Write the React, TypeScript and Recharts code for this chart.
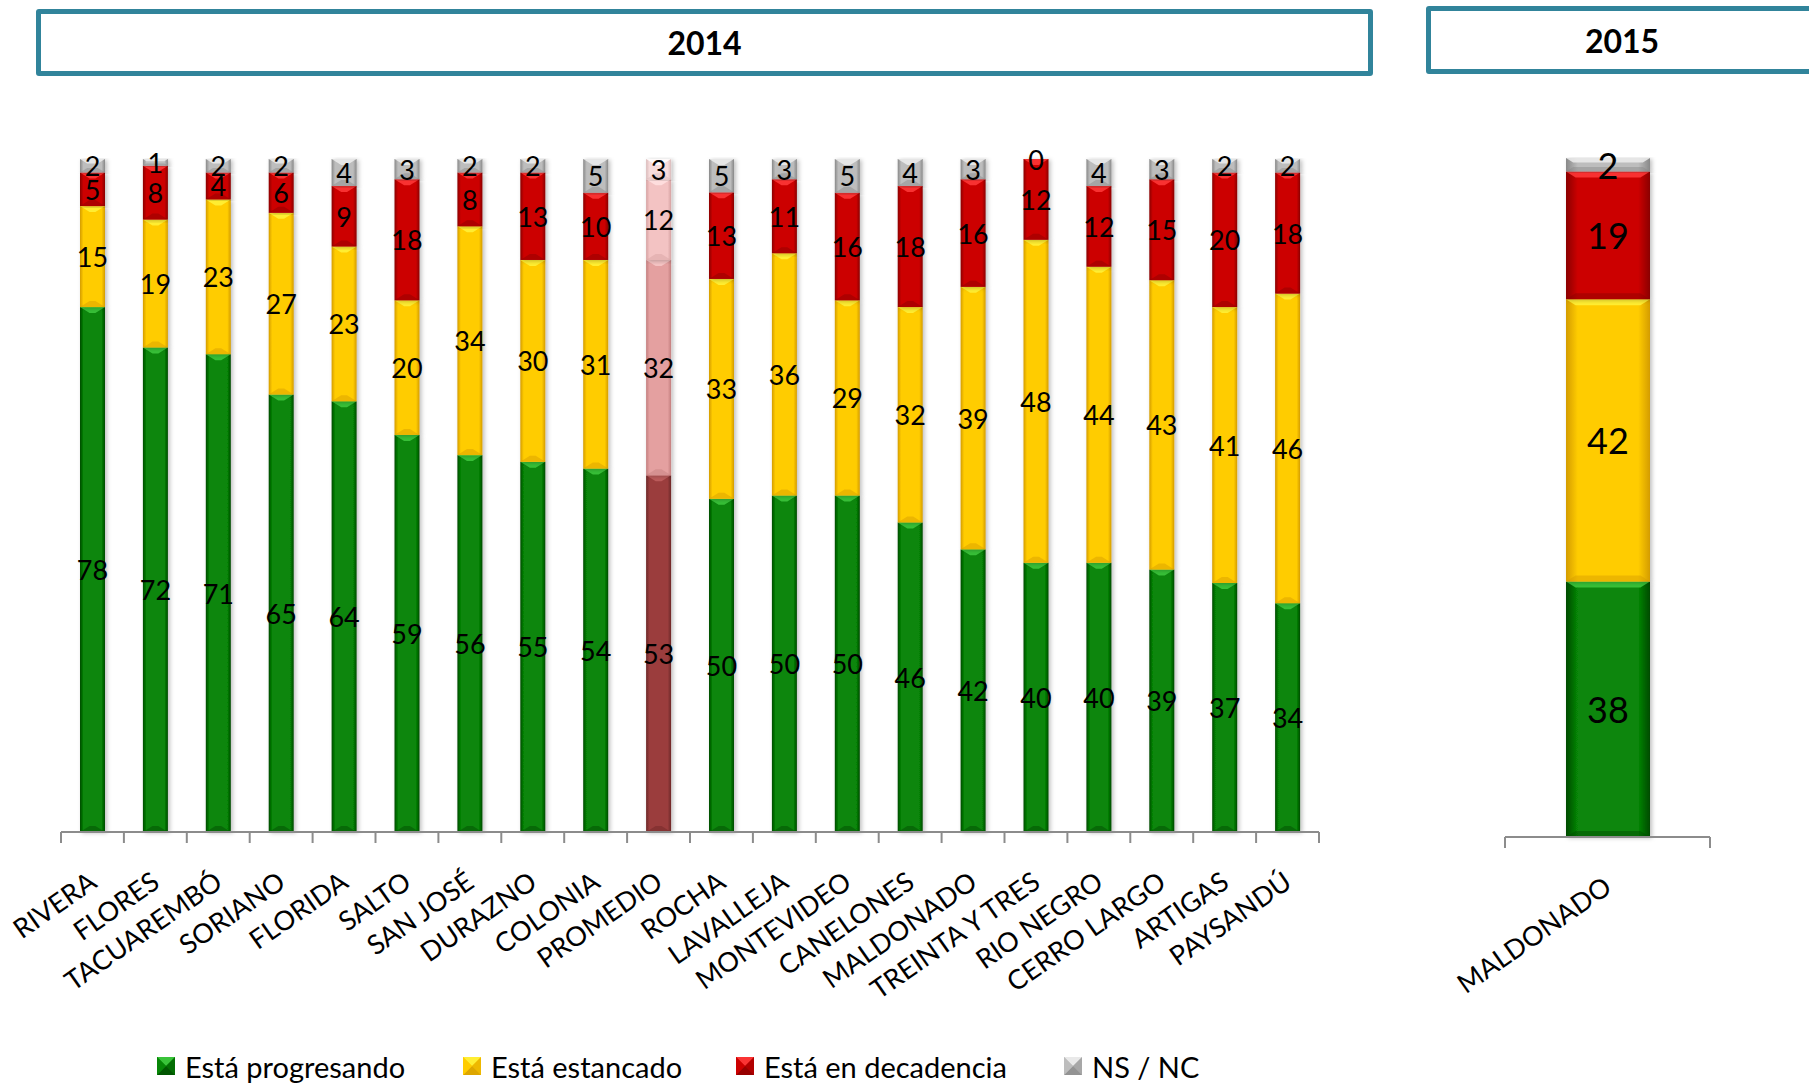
import React from 'react';
import { BarChart, Bar, XAxis, YAxis, LabelList, Cell } from 'recharts';

const CATEGORIES = [
  'RIVERA', 'FLORES', 'TACUAREMBÓ', 'SORIANO', 'FLORIDA', 'SALTO', 'SAN JOSÉ', 'DURAZNO', 'COLONIA', 'PROMEDIO',
  'ROCHA', 'LAVALLEJA', 'MONTEVIDEO', 'CANELONES', 'MALDONADO', 'TREINTA Y TRES', 'RIO NEGRO', 'CERRO LARGO', 'ARTIGAS', 'PAYSANDÚ',
];
const PROGRESANDO = [78, 72, 71, 65, 64, 59, 56, 55, 54, 53, 50, 50, 50, 46, 42, 40, 40, 39, 37, 34];
const ESTANCADO = [15, 19, 23, 27, 23, 20, 34, 30, 31, 32, 33, 36, 29, 32, 39, 48, 44, 43, 41, 46];
const DECADENCIA = [5, 8, 4, 6, 9, 18, 8, 13, 10, 12, 13, 11, 16, 18, 16, 12, 12, 15, 20, 18];
const NSNC = [2, 1, 2, 2, 4, 3, 2, 2, 5, 3, 5, 3, 5, 4, 3, 0, 4, 3, 2, 2];

const CATEGORIES_2015 = ['MALDONADO'];
const PROGRESANDO_2015 = [38];
const ESTANCADO_2015 = [42];
const DECADENCIA_2015 = [19];
const NSNC_2015 = [2];

const HIGHLIGHT = 'PROMEDIO';

const FONT = 'Lato, "Open Sans", sans-serif';

// base / dark edge / light bevel
const PALETTE: Record<string, [string, string, string]> = {
  prog: ['#078607', '#004a00', '#3fca3f'],
  est: ['#FFCC00', '#D49C00', '#FFF23A'],
  dec: ['#CC0000', '#8A0000', '#FF3A3A'],
  ns: ['#BDBDBD', '#888888', '#EDEDED'],
  'h-prog': ['#9B3E3E', '#6C2626', '#C26262'],
  'h-est': ['#E4A0A0', '#C47F7F', '#F6C8C8'],
  'h-dec': ['#F3C3C3', '#D6A2A2', '#FFE2E2'],
  'h-ns': ['#F7DCDC', '#D9BBBB', '#FFFFFF'],
};

const SERIES = [
  { key: 'prog', name: 'Está progresando' },
  { key: 'est', name: 'Está estancado' },
  { key: 'dec', name: 'Está en decadencia' },
  { key: 'ns', name: 'NS / NC' },
];

const rows2014 = CATEGORIES.map((c, i) => ({
  name: c,
  prog: PROGRESANDO[i],
  est: ESTANCADO[i],
  dec: DECADENCIA[i],
  ns: NSNC[i],
}));

const rows2015 = CATEGORIES_2015.map((c, i) => ({
  name: c,
  prog: PROGRESANDO_2015[i],
  est: ESTANCADO_2015[i],
  dec: DECADENCIA_2015[i],
  ns: NSNC_2015[i],
}));

function Gradients() {
  return (
    <defs>
      {Object.entries(PALETTE).map(([k, [base, dark]]) => (
        <linearGradient key={k} id={`grad-${k}`} x1="0" y1="0" x2="1" y2="0">
          <stop offset="0%" stopColor={dark} />
          <stop offset="14%" stopColor={base} />
          <stop offset="86%" stopColor={base} />
          <stop offset="100%" stopColor={dark} />
        </linearGradient>
      ))}
      <filter id="barShadow" x="-30%" y="-5%" width="160%" height="110%">
        <feDropShadow dx="2" dy="1" stdDeviation="2" floodColor="#000" floodOpacity="0.25" />
      </filter>
    </defs>
  );
}

function BevelBar(props: any) {
  const { x, y, width, height, fill } = props;
  if (!height || height <= 0 || !width) return null;
  const colors = PALETTE[fill] || PALETTE.ns;
  const b = Math.min(6, height / 3, width / 4);
  return (
    <g>
      <rect x={x} y={y} width={width} height={height} fill={`url(#grad-${fill})`} filter="url(#barShadow)" />
      <polygon
        points={`${x},${y} ${x + width},${y} ${x + width - b * 1.6},${y + b} ${x + b * 1.6},${y + b}`}
        fill={colors[2]}
        opacity={0.85}
      />
      <polygon
        points={`${x},${y + height} ${x + width},${y + height} ${x + width - b * 1.6},${y + height - b} ${x + b * 1.6},${y + height - b}`}
        fill={colors[1]}
        opacity={0.45}
      />
    </g>
  );
}

const makeLabel = (values: number[], fontSize: number) => (p: any) => {
  const vb = p.viewBox && p.viewBox.width != null ? p.viewBox : p;
  const { x, y, width, height } = vb;
  const v = p.index != null ? values[p.index] : p.value;
  if (v == null || x == null) return null;
  return (
    <text
      x={x + width / 2}
      y={y + height / 2}
      textAnchor="middle"
      dominantBaseline="central"
      fontSize={fontSize}
      fontFamily={FONT}
      fill="#000"
    >
      {v}
    </text>
  );
};

function CategoryTick(props: any) {
  const { x, y, payload, index, count } = props;
  const half = payload && payload.offset ? payload.offset : 31.5;
  return (
    <g>
      <line x1={x - half} y1={y} x2={x - half} y2={y + 11} stroke="#8C8C8C" strokeWidth={2} />
      {index === count - 1 && <line x1={x + half} y1={y} x2={x + half} y2={y + 11} stroke="#8C8C8C" strokeWidth={2} />}
      <text
        transform={`translate(${x + 6},${y + 54}) rotate(-35)`}
        textAnchor="end"
        fontSize={27}
        fontFamily={FONT}
        fill="#000"
      >
        {payload.value}
      </text>
    </g>
  );
}

function StackChart({
  data,
  values,
  width,
  height,
  margin,
  barSize,
  labelSize,
  axisHeight,
}: {
  data: any[];
  values: Record<string, number[]>;
  width: number;
  height: number;
  margin: { top: number; right: number; bottom: number; left: number };
  barSize: number;
  labelSize: number;
  axisHeight: number;
}) {
  return (
    <BarChart width={width} height={height} data={data} margin={margin} stackOffset="expand" barSize={barSize}>
      <Gradients />
      <XAxis
        dataKey="name"
        interval={0}
        height={axisHeight}
        tickSize={0}
        tickMargin={0}
        tickLine={false}
        axisLine={{ stroke: '#8C8C8C', strokeWidth: 2 }}
        tick={(p: any) => <CategoryTick {...p} count={data.length} />}
      />
      <YAxis hide domain={[0, 1]} />
      {SERIES.map(s => (
        <Bar key={s.key} dataKey={s.key} name={s.name} stackId="a" shape={BevelBar} isAnimationActive={false}>
          {data.map(d => (
            <Cell key={d.name} fill={d.name === HIGHLIGHT ? `h-${s.key}` : s.key} />
          ))}
          <LabelList dataKey={s.key} content={makeLabel(values[s.key], labelSize)} />
        </Bar>
      ))}
    </BarChart>
  );
}

function Swatch({ k }: { k: string }) {
  const [base, dark, light] = PALETTE[k];
  return (
    <svg width={18} height={18} style={{ display: 'block' }}>
      <rect x={0} y={0} width={18} height={18} fill={base} />
      <polygon points="0,0 18,0 9,9" fill={light} opacity={0.9} />
      <polygon points="0,18 18,18 9,9" fill={dark} opacity={0.8} />
      <polygon points="0,0 0,18 9,9" fill={base} />
      <polygon points="18,0 18,18 9,9" fill={dark} opacity={0.4} />
    </svg>
  );
}

const LEGEND_POS = [157, 463, 736, 1064];

export default function App() {
  const values2014 = { prog: PROGRESANDO, est: ESTANCADO, dec: DECADENCIA, ns: NSNC };
  const values2015 = { prog: PROGRESANDO_2015, est: ESTANCADO_2015, dec: DECADENCIA_2015, ns: NSNC_2015 };
  return (
    <div
      style={{
        position: 'absolute',
        left: 0,
        top: 0,
        width: 1809,
        height: 1083,
        overflow: 'hidden',
        background: '#fff',
        fontFamily: FONT,
      }}
    >
      <div
        style={{
          position: 'absolute',
          left: 36,
          top: 9,
          width: 1337,
          height: 67,
          boxSizing: 'border-box',
          border: '5px solid #31849B',
          borderRadius: 3,
          display: 'flex',
          alignItems: 'center',
          justifyContent: 'center',
          fontWeight: 700,
          fontSize: 32,
          color: '#000',
        }}
      >
        2014
      </div>
      <div
        style={{
          position: 'absolute',
          left: 1426,
          top: 6,
          width: 392,
          height: 68,
          boxSizing: 'border-box',
          border: '5px solid #31849B',
          borderRadius: 3,
          display: 'flex',
          alignItems: 'center',
          justifyContent: 'center',
          fontWeight: 700,
          fontSize: 32,
          color: '#000',
        }}
      >
        2015
      </div>

      <div style={{ position: 'absolute', left: 0, top: 0 }}>
        <StackChart
          data={rows2014}
          values={values2014}
          width={1340}
          height={1083}
          margin={{ top: 159, right: 21, bottom: 1, left: 61 }}
          barSize={25}
          labelSize={27}
          axisHeight={250}
        />
      </div>

      <div style={{ position: 'absolute', left: 1440, top: 0 }}>
        <StackChart
          data={rows2015}
          values={values2015}
          width={300}
          height={1083}
          margin={{ top: 158, right: 30, bottom: 1, left: 65 }}
          barSize={84}
          labelSize={36}
          axisHeight={245}
        />
      </div>

      {SERIES.map((s, i) => (
        <div
          key={s.key}
          style={{
            position: 'absolute',
            left: LEGEND_POS[i],
            top: 1047,
            height: 38,
            display: 'flex',
            alignItems: 'center',
            gap: 10,
            fontSize: 29,
            color: '#000',
            whiteSpace: 'nowrap',
          }}
        >
          <Swatch k={s.key} />
          <span>{s.name}</span>
        </div>
      ))}
    </div>
  );
}
